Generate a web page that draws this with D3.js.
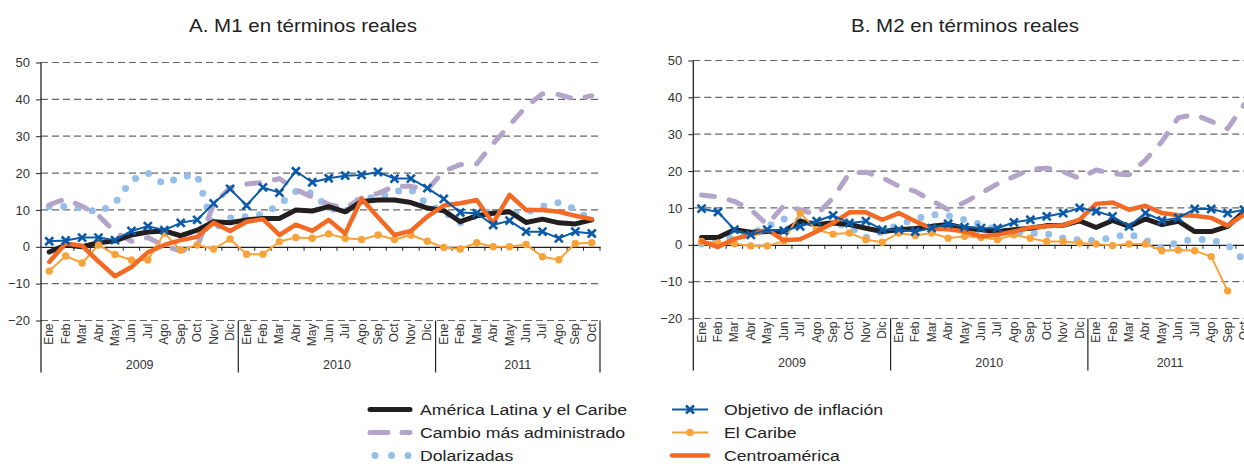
<!DOCTYPE html>
<html>
<head>
<meta charset="utf-8">
<script src="https://cdn.jsdelivr.net/npm/d3@7"></script>
<style>
  body { margin: 0; background: #fff; }
  text { font-family: "Liberation Sans", Arial, sans-serif; fill: #333; }
</style>
</head>
<body>
<div id="chart"></div>
<script>
const width = 1244
const height = 464

// categories
const monthNames = ["Ene", "Feb", "Mar", "Abr", "May", "Jun", "Jul", "Ago", "Sep", "Oct", "Nov", "Dic"]
const years = ["2009", "2010", "2011"]
const monthsInYear = [12, 12, 10]
const yTicks = [-20, -10, 0, 10, 20, 30, 40, 50]
const periods = years.flatMap((yr, i) => monthNames.slice(0, monthsInYear[i]).map(m => m + " " + yr))

// A. M1 en términos reales
const m1Alc   = [-1.4, 0.5, 0, 1.1, 1.6, 3.2, 4, 4.3, 3, 4.5, 6.8, 6.5, 7.3, 7.7, 7.7, 10, 9.7, 10.9, 9.5, 12.3, 12.7, 12.7, 12, 10.5, 9.8, 6.8, 8.4, 9.1, 9.5, 6.6, 7.5, 6.5, 6.2, 7.3]
const m1Adm   = [11.4, 13, 11, 8.5, 4, 1.5, 2.5, 0.3, -1.2, 0, 11.5, 16, 17, 17.5, 18.5, 15.5, 13.5, 11.5, 10.5, 13.2, 14.5, 16.4, 16.4, 15.5, 20.5, 22.3, 22.5, 28, 33, 38, 41.5, 41.3, 40, 41]
const m1Dol   = [10.9, 10.9, 10.6, 9.3, 11.8, 18, 20, 17, 19, 19.5, 4.8, 7.8, 8.2, 8.8, 11.5, 15, 14.5, 10.5, 9.5, 13.5, 13.2, 15, 15.5, 11.5, 9.5, 6.5, 8.5, 9.8, 9.2, 9.3, 11, 12, 10.2, 7]
const m1Obj   = [1.5, 1.7, 2.5, 2.5, 1.8, 4.3, 5.6, 4.5, 6.5, 7.3, 11.8, 15.7, 11.2, 16.1, 14.7, 20.5, 17.5, 18.6, 19.3, 19.5, 20.3, 18.5, 18.5, 15.9, 13, 9.3, 9.1, 5.9, 7.1, 4.1, 4.1, 2.3, 4.1, 3.6]
const m1Car   = [-6.6, -2.5, -4.4, 0.5, -2.1, -3.6, -3.6, 3.7, -0.9, 0.5, -0.6, 2.1, -2, -2, 1.4, 2.5, 2.3, 3.5, 2.3, 2, 3.2, 2, 3.2, 1.5, -0.2, -0.6, 1.1, 0, 0, 0.6, -2.7, -3.5, 0.9, 1.1]
const m1Cen   = [-4.1, 0.9, 0.3, -4, -8, -5.5, -1.5, 0.5, 1.8, 2.7, 6.5, 4.3, 6.8, 7.5, 3.2, 6, 4.3, 7.3, 3.6, 13, 8, 3.2, 4.3, 8.2, 11.2, 11.8, 12.7, 6.4, 14.1, 10, 10, 9.5, 8.4, 7.5]

// B. M2 en términos reales
const m2Alc   = [2, 2, 4.1, 3.4, 3.6, 3.6, 6.4, 5.5, 5.9, 5.5, 4.5, 3.6, 4.1, 4.4, 5, 5.5, 4.5, 4.1, 3.6, 4.1, 4.5, 5.2, 5.3, 6.5, 4.7, 6.6, 5, 7, 5.5, 6.4, 3.6, 3.6, 5, 9]
const m2Adm   = [13.5, 13, 11.8, 9.5, 5.5, 10.6, 9.5, 8.2, 12.7, 19.5, 19.7, 18.2, 15.9, 14.5, 12, 9.5, 11.5, 14, 16.5, 18.5, 20.5, 20.8, 19.8, 18, 20.3, 19.3, 19, 23, 28, 34.5, 35.3, 33.5, 31.5, 38]
const m2Dol   = [0.2, 1.5, 2, 3, 5, 7, 6.8, 5.3, 5.8, 5, 2, 3.5, 5.5, 7, 8.2, 7.9, 6.8, 5.5, 4, 3.5, 3.2, 3, 1.8, 1.3, 1.1, 2, 3, 1.3, -1, 0.8, 1.5, 1.3, 0, -4.2]
const m2Obj   = [9.8, 8.9, 4.1, 2.7, 4.1, 3.8, 5, 6.4, 8, 5.9, 6.4, 4.1, 4.1, 3.6, 4.5, 5.7, 4.8, 4.5, 4.5, 6.1, 6.8, 7.7, 8.6, 10, 9.1, 7.7, 5, 8.6, 6.6, 7.3, 9.7, 9.7, 8.6, 9.5]
const m2Car   = [0.9, 0.5, 0.3, -0.3, -0.3, 1, 8.6, 4.1, 2.9, 3.2, 1.4, 0.7, 3.2, 2.5, 3.2, 1.8, 2.3, 2, 1.4, 2.7, 1.8, 0.9, 0.9, 0.5, 0.2, -0.2, 0.2, 0.2, -1.6, -1.4, -1.6, -3.2, -12.5, null]
const m2Cen   = [0.9, -0.6, 1.6, 2.7, 4.1, 1.2, 1.5, 3.6, 5.9, 8.8, 8.8, 6.8, 8.6, 6.4, 4.4, 4.2, 3.6, 2.3, 2.7, 3.6, 4.7, 5, 5.3, 6.8, 11.1, 11.5, 9.5, 10.6, 8.6, 8, 7.9, 7.3, 5.2, 8.2]

// series styles, in the order they are drawn
const styles = {
  "Dolarizadas":                { color: "#95bfe9", width: 7, dash: "0,14.5", cap: "round", legendDash: "0,16.5" },
  "Cambio más administrado":    { color: "#b3a5ca", width: 5, dash: "13,15", cap: "round", legendDash: "18,14" },
  "América Latina y el Caribe": { color: "#231f20", width: 5, dash: null, cap: "round" },
  "El Caribe":                  { color: "#f8a23a", width: 2, dash: null, cap: "butt", marker: "dot" },
  "Centroamérica":              { color: "#f26a24", width: 4.5, dash: null, cap: "round" },
  "Objetivo de inflación":      { color: "#0b5aa8", width: 2, dash: null, cap: "butt", marker: "x" }
}
const drawOrder = ["Dolarizadas", "Cambio más administrado", "América Latina y el Caribe",
                   "El Caribe", "Centroamérica", "Objetivo de inflación"]

const panelA = { title: "A. M1 en términos reales", titleX: 303, left: 41, top: 62.5,
  series: { "América Latina y el Caribe": m1Alc, "Cambio más administrado": m1Adm, "Dolarizadas": m1Dol,
            "Objetivo de inflación": m1Obj, "El Caribe": m1Car, "Centroamérica": m1Cen } }
const panelB = { title: "B. M2 en términos reales", titleX: 965, left: 693.3, top: 60.5,
  series: { "América Latina y el Caribe": m2Alc, "Cambio más administrado": m2Adm, "Dolarizadas": m2Dol,
            "Objetivo de inflación": m2Obj, "El Caribe": m2Car, "Centroamérica": m2Cen } }

const plotW = 559
const plotH = 258
const stretch = 1.14   // the source chart is slightly wider than tall

const svg = d3.select("div#chart").append("svg")
  .attr("width", width).attr("height", height)
  .style("display", "block")

function drawPanel(p) {
  svg.append("g").attr("transform", `translate(${p.titleX}, 31.5) scale(${stretch}, 1)`)
    .append("text").attr("text-anchor", "middle").style("font-size", "18px").style("fill", "#222")
    .text(p.title)

  const g = svg.append("g").attr("transform", `translate(${p.left}, ${p.top})`)
  const x = d3.scaleBand().domain(periods).range([0, plotW])
  const y = d3.scaleLinear().domain([-20, 50]).range([plotH, 0])
  const cx = i => x(periods[i]) + x.bandwidth() / 2

  // dashed gridlines
  g.append("g").selectAll("line").data(yTicks.filter(t => t !== 0)).enter().append("line")
    .attr("x1", 0).attr("x2", plotW)
    .attr("y1", d => y(d)).attr("y2", d => y(d))
    .attr("stroke", "#666").attr("stroke-width", 1.2).attr("stroke-dasharray", "7,4")

  // y axis
  const yAxis = d3.axisLeft(y).tickValues(yTicks).tickSize(5).tickPadding(6)
  const ya = g.append("g").call(yAxis)
  ya.select(".domain").remove()
  ya.selectAll(".tick line").attr("stroke", "#222")
  ya.selectAll(".tick text").style("font-size", "13px").style("font-family", "Liberation Sans, Arial, sans-serif").attr("fill", "#333")
  g.append("line").attr("x1", 0).attr("x2", 0).attr("y1", 0).attr("y2", plotH + 52)
    .attr("stroke", "#222").attr("stroke-width", 1.3)

  // zero line with month ticks
  const xAxis = d3.axisBottom(x).tickSize(0).tickFormat("")
  const xa = g.append("g").attr("transform", `translate(0, ${y(0)})`).call(xAxis)
  xa.select(".domain").attr("stroke", "#222").attr("stroke-width", 1.2)
  g.append("g").selectAll("line").data(d3.range(1, periods.length + 1)).enter().append("line")
    .attr("x1", d => d * x.step()).attr("x2", d => d * x.step())
    .attr("y1", y(0)).attr("y2", y(0) + 4)
    .attr("stroke", "#222").attr("stroke-width", 1)

  // month labels under the plot
  g.append("g").selectAll("text").data(periods).enter().append("text")
    .attr("transform", (d, i) => `translate(${cx(i) + 4}, ${plotH + 3}) rotate(-90)`)
    .attr("text-anchor", "end")
    .style("font-size", "12px")
    .text(d => d.split(" ")[0])

  // year separators and labels
  let start = 0
  years.forEach((yr, k) => {
    const end = start + monthsInYear[k]
    const x1 = end * x.step()
    g.append("line").attr("x1", x1).attr("x2", x1).attr("y1", plotH).attr("y2", plotH + 52)
      .attr("stroke", "#222").attr("stroke-width", 1.2)
    g.append("text").attr("x", (start + end) / 2 * x.step()).attr("y", plotH + 48)
      .attr("text-anchor", "middle").style("font-size", "12.5px").text(yr)
    start = end
  })

  // series
  drawOrder.forEach(name => {
    const st = styles[name]
    const vals = p.series[name]
    const line = d3.line().defined(d => d != null).x((d, i) => cx(i)).y(d => y(d))
    g.append("path").datum(vals)
      .attr("d", line)
      .attr("fill", "none")
      .attr("stroke", st.color)
      .attr("stroke-width", st.width)
      .attr("stroke-linecap", st.cap)
      .attr("stroke-linejoin", "round")
      .attr("stroke-dasharray", st.dash)
    const pts = vals.map((v, i) => ({ v, i })).filter(d => d.v != null)
    if (st.marker === "dot") {
      g.append("g").selectAll("circle").data(pts).enter().append("circle")
        .attr("cx", d => cx(d.i)).attr("cy", d => y(d.v)).attr("r", 3.7)
        .attr("fill", st.color)
    }
    if (st.marker === "x") {
      g.append("g").selectAll("path").data(pts).enter().append("path")
        .attr("d", d => {
          const a = cx(d.i), b = y(d.v), s = 4
          return `M${a - s},${b - s}L${a + s},${b + s}M${a - s},${b + s}L${a + s},${b - s}`
        })
        .attr("stroke", st.color).attr("stroke-width", 2.6).attr("fill", "none")
    }
  })
}

drawPanel(panelA)
drawPanel(panelB)

// legend
const legendCols = [
  { x1: 370, x2: 410, tx: 420, names: ["América Latina y el Caribe", "Cambio más administrado", "Dolarizadas"] },
  { x1: 672, x2: 708, tx: 724, names: ["Objetivo de inflación", "El Caribe", "Centroamérica"] }
]
const legendRows = [409.5, 432.5, 455.5]
legendCols.forEach(col => {
  col.names.forEach((name, r) => {
    const st = styles[name]
    const ly = legendRows[r]
    let x1 = col.x1, x2 = col.x2
    if (name === "Dolarizadas") { x1 = 375; x2 = 409.5 }
    svg.append("line").attr("x1", x1).attr("x2", x2).attr("y1", ly).attr("y2", ly)
      .attr("stroke", st.color).attr("stroke-width", st.width)
      .attr("stroke-linecap", st.cap).attr("stroke-dasharray", st.legendDash || st.dash)
    const mx = (col.x1 + col.x2) / 2
    if (st.marker === "dot") svg.append("circle").attr("cx", mx).attr("cy", ly).attr("r", 3.7).attr("fill", st.color)
    if (st.marker === "x") svg.append("path")
      .attr("d", `M${mx - 4},${ly - 4}L${mx + 4},${ly + 4}M${mx - 4},${ly + 4}L${mx + 4},${ly - 4}`)
      .attr("stroke", st.color).attr("stroke-width", 2.6)
    svg.append("g").attr("transform", `translate(${col.tx}, ${ly + 5}) scale(${stretch}, 1)`)
      .append("text").style("font-size", "15.5px").style("fill", "#222").text(name)
  })
})
</script>
</body>
</html>
